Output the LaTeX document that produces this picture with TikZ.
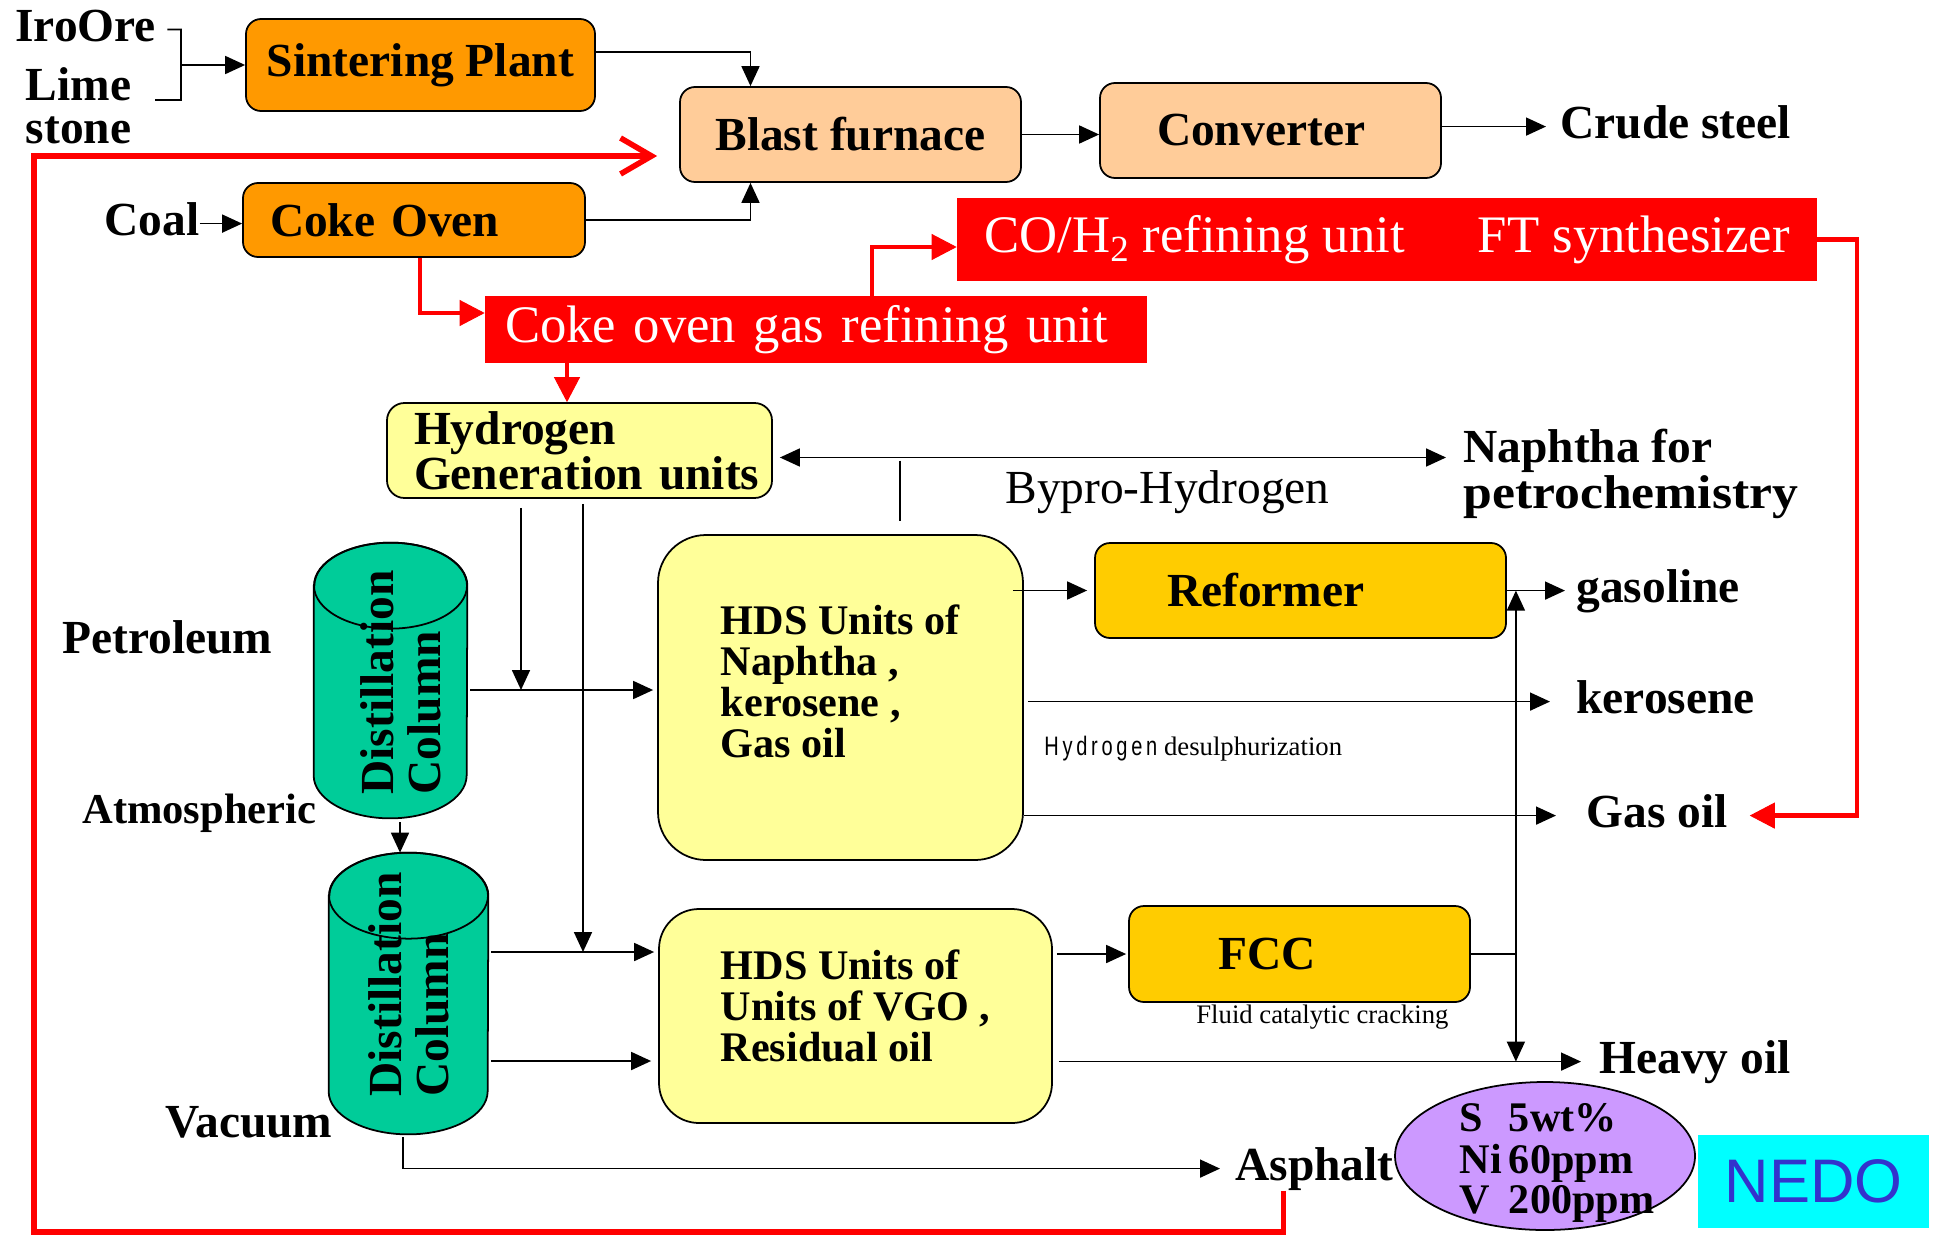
\documentclass[tikz,border=0pt]{standalone}
\usepackage{fontspec}
\setmainfont{Liberation Serif}
\setsansfont{Liberation Sans}
\newfontfamily\spacedsans[LetterSpace=14,FakeStretch=0.75]{Liberation Sans}
\usetikzlibrary{arrows.meta,shapes.geometric,calc}
\definecolor{orng}{HTML}{FF9900}
\definecolor{peach}{HTML}{FFCC99}
\definecolor{lyellow}{HTML}{FFFF99}
\definecolor{gold}{HTML}{FFCC00}
\definecolor{colgreen}{HTML}{00CC99}
\definecolor{lilac}{HTML}{CC99FF}
\definecolor{nedocyan}{HTML}{00FFFF}
\definecolor{nedoblue}{HTML}{3333CC}

\begin{document}
\begin{tikzpicture}[
  plant/.style={draw, line width=1pt, rounded corners=0.3cm, inner sep=0pt, font=\fontsize{27}{26}\selectfont\bfseries},
  redbox/.style={fill=red, inner sep=0pt, text=white, font=\fontsize{30}{30}\selectfont},
  lbl/.style={inner sep=0pt, text height=19pt, text depth=6pt, font=\fontsize{27}{26}\selectfont\bfseries},
  mlbl/.style={inner sep=0pt, align=left, font=\fontsize{27}{24.5}\selectfont\bfseries},
  note/.style={inner sep=0pt, font=\fontsize{15.2}{16}\selectfont},
  arr/.style={line width=1pt, -{Triangle[length=0.4cm,width=0.36cm]}},
  arrr/.style={line width=1pt, {Triangle[length=0.4cm,width=0.36cm]}-{Triangle[length=0.4cm,width=0.36cm]}},
  redarr/.style={red, line width=2.6pt, -{Triangle[length=0.5cm,width=0.52cm,line width=0.5pt]}},
  backline/.style={red, line width=3.2pt, -{Straight Barb[length=0.62cm,width=0.72cm]}, shorten >=0.44cm}
]
\useasboundingbox (0,0) rectangle (38.66,-24.68);

\node[plant, fill=orng, minimum width=6.98cm, minimum height=1.84cm] (sinter) at (8.41,-1.30) {Sintering Plant};
\node[plant, fill=peach, minimum width=6.82cm, minimum height=1.90cm] (blast) at (17.01,-2.69) {Blast furnace};
\node[plant, fill=peach, minimum height=1.90cm, text width=6.82cm, align=left] (conv) at (25.41,-2.61) {\hspace*{1.14cm}Converter};
\node[plant, fill=orng, minimum height=1.48cm, text width=5.76cm, inner xsep=0.54cm, align=left] (coke) at (8.28,-4.40) {Coke Oven};
\node[redbox, minimum height=1.34cm, text width=12.44cm, inner xsep=0.4cm, align=left] (cog) at (16.32,-6.59) {Coke oven gas refining unit};
\node[redbox, minimum width=17.2cm, minimum height=1.66cm] (coh2) at (27.74,-4.79) {CO/H\textsubscript{2} refining unit\hspace{1.46cm}FT synthesizer};
\node[plant, fill=lyellow, rounded corners=0.35cm, minimum height=1.90cm, text width=7.70cm, align=left, font=\fontsize{27}{25.6}\selectfont\bfseries] (hydro) at (11.59,-9.01) {\hspace*{0.54cm}Hydrogen\\\hspace*{0.54cm}Generation units};
\node[plant, fill=lyellow, rounded corners=0.96cm, minimum width=7.30cm, minimum height=6.50cm, align=left, font=\fontsize{24}{23.3}\selectfont\bfseries] (hdsn) at (16.81,-13.95) {HDS Units of\\Naphtha ,\\kerosene ,\\Gas oil\rule[-0.64cm]{0pt}{0.64cm}};
\node[plant, fill=lyellow, rounded corners=0.8cm, minimum width=7.86cm, minimum height=4.28cm, align=left, font=\fontsize{24}{23.3}\selectfont\bfseries] (hdsv) at (17.11,-20.32) {HDS Units of\\Units of VGO ,\\Residual oil\rule[-0.4cm]{0pt}{0.4cm}};
\node[plant, fill=gold, minimum height=1.90cm, text width=5.34cm, inner xsep=1.44cm, align=left] (reformer) at (26.01,-11.81) {Reformer};
\node[plant, fill=gold, minimum height=1.92cm, text width=3.26cm, inner xsep=1.78cm, align=left] (fcc) at (25.99,-19.08) {FCC};

\node[minimum width=3.06cm, minimum height=5.50cm, inner sep=0pt] (col1) at (7.81,-13.61) {};
\node[minimum width=3.18cm, minimum height=5.62cm, inner sep=0pt] (col2) at (8.17,-19.87) {};
\foreach \c/\rx in {col1/1.53,col2/1.59}{
  \draw[fill=colgreen, line width=1pt] ([yshift=-0.86cm]\c.north west) -- ([yshift=0.86cm]\c.south west)
    arc[start angle=180, end angle=360, x radius=\rx*1cm, y radius=0.86cm] -- ([yshift=-0.86cm]\c.north east)
    arc[start angle=0, end angle=180, x radius=\rx*1cm, y radius=0.86cm] -- cycle;
  \draw[line width=1pt] ([yshift=-0.86cm]\c.north) ellipse[x radius=\rx*1cm, y radius=0.86cm];
}
\node[rotate=90, inner sep=0pt, align=left, font=\fontsize{27}{26.7}\selectfont\bfseries] (col1text) at (8.02,-13.65) {Distillation\\Column};
\node[rotate=90, inner sep=0pt, align=left, font=\fontsize{27}{26.7}\selectfont\bfseries] (col2text) at (8.18,-19.69) {Distillation\\Column};

\node[ellipse, draw, line width=1pt, fill=lilac, minimum width=6cm, minimum height=2.96cm, inner sep=0pt] (props) at (30.90,-23.12) {};
\node[inner sep=0pt, font=\fontsize{24}{23}\selectfont\bfseries] (propstext) at (31.14,-23.29) {\begin{tabular}{@{}l@{\hspace{4pt}}l@{}}S&5wt\%\\Ni&60ppm\\V&200ppm\end{tabular}};
\node[fill=nedocyan, minimum width=4.62cm, minimum height=1.86cm, inner sep=0pt, text=nedoblue, font=\sffamily\fontsize{35}{35}\selectfont] (nedo) at (36.27,-23.63) {NEDO};

\node[lbl, anchor=base west] (iron) at (0.30,-0.82) {IroOre};
\node[mlbl] (lime) at (1.57,-2.11) {Lime\\stone};
\node[lbl, anchor=base west] (coal) at (2.08,-4.70) {Coal};
\node[lbl, anchor=base west] (crude) at (31.20,-2.76) {Crude steel};
\node[mlbl, anchor=west, font=\fontsize{27}{26}\selectfont\bfseries] (naphtha) at (29.26,-9.48) {Naphtha for\\\scalebox{1.09}[1]{petrochemistry}};
\node[lbl, anchor=base west, font=\fontsize{27}{26}\selectfont] (bypro) at (20.10,-10.06) {Bypro-Hydrogen};
\node[lbl, anchor=base west] (petro) at (1.24,-13.06) {Petroleum};
\node[lbl, anchor=base west, font=\fontsize{24.2}{26}\selectfont\bfseries] (atmos) at (1.64,-16.46) {Atmospheric};
\node[lbl, anchor=base west] (vacuum) at (3.30,-22.74) {Vacuum};
\node[lbl, anchor=base west] (gasoline) at (31.52,-12.04) {gasoline};
\node[lbl, anchor=base west] (kerosene) at (31.52,-14.26) {kerosene};
\node[lbl, anchor=base west] (gasoil) at (31.72,-16.54) {Gas oil};
\node[lbl, anchor=base west] (heavy) at (31.98,-21.46) {Heavy oil};
\node[lbl, anchor=base west] (asphalt) at (24.70,-23.60) {Asphalt};
\node[note, anchor=base west] (hdsnote) at (20.88,-15.10) {{\spacedsans Hydrogen} desulphurization};
\node[note, anchor=base west] (fccnote) at (23.92,-20.46) {Fluid catalytic cracking};

\coordinate (brkt) at (3.62,-0.59);
\coordinate (brkb) at (3.62,-2.00);
\coordinate (byp) at (18.00,-9.15);
\coordinate (in1) at ([yshift=0.15cm]hdsn.west);
\coordinate (in2) at ([yshift=1.28cm]hdsv.west);
\coordinate (in3) at ([yshift=-0.9cm]hdsv.west);
\coordinate (h1) at ([xshift=-1.17cm,yshift=-0.18cm]hydro.south);
\coordinate (h2) at ([xshift=0.07cm,yshift=-0.1cm]hydro.south);
\coordinate (fccj) at ([xshift=0.9cm]fcc.east);
\coordinate (ftr) at (37.14,-4.79);
\coordinate (loopa) at (0.68,-24.64);

\draw[line width=1pt] ([xshift=0.22cm]iron.east) -- (brkt) -- (brkb) -- ++(-0.52,0);
\draw[arr] (brkt |- sinter.west) -- (sinter.west);
\draw[arr] (coal.east) -- (coal.east -| coke.west);
\draw[arr] ([yshift=0.26cm]sinter.east) -| ([xshift=-2cm]blast.north);
\draw[arr] (coke.east) -| ([xshift=-2cm]blast.south);
\draw[arr] (blast.east) -- (blast.east -| conv.west);
\draw[arr, shorten >=0.28cm] (crude.west -| conv.east) -- (crude.west);

\draw[redarr] ([xshift=0.12cm]coke.south) |- ([yshift=0.33cm]cog.west);
\draw[redarr] ([xshift=1.12cm]cog.north) |- ([yshift=-0.15cm]coh2.west);
\draw[redarr] ([xshift=-0.25cm]hydro.north |- cog.south) -- ([xshift=-0.25cm]hydro.north);
\draw[redarr, shorten >=0.44cm] (coh2.east) -| (ftr |- gasoil.east) -- (gasoil.east);
\draw[backline] ([xshift=-0.62cm]asphalt.south) |- (loopa) |- ([yshift=-0.43cm]blast.west);

\draw[arrr, shorten <=0.14cm, shorten >=0.34cm] (hydro.east |- byp) -- (byp -| naphtha.west);
\draw[line width=1pt] ([yshift=-0.06cm]byp) -- ([yshift=0.26cm]hdsn.north -| byp);
\draw[arr] (h1) -- (h1 |- in1);
\draw[arr] (h2) -- (h2 |- in2);
\draw[arr, shorten <=0.06cm, shorten >=0.08cm] (col1.east |- in1) -- (in1);
\draw[arr, shorten <=0.06cm, shorten >=0.08cm] (col2.east |- in2) -- (in2);
\draw[arr, shorten <=0.06cm, shorten >=0.14cm] (col2.east |- in3) -- (in3);
\draw[arr] ([xshift=0.19cm,yshift=-0.08cm]col1.south) -- ([xshift=0.19cm]col1.south |- col2.north);
\draw[arr, shorten >=0.3cm] ([xshift=-0.11cm,yshift=-0.06cm]col2.south) |- (asphalt.west);
\draw[arr, shorten >=0.14cm] ([xshift=-0.22cm]hdsn.east |- reformer.west) -- (reformer.west);
\draw[arr, shorten >=0.22cm] (reformer.east |- gasoline.west) -- (gasoline.west);
\draw[arr, shorten <=0.08cm, shorten >=0.52cm] (hdsn.east |- kerosene.west) -- (kerosene.west);
\draw[arr, shorten >=0.6cm] (hdsn.east |- gasoil.west) -- (gasoil.west);
\draw[arr, shorten <=0.08cm, shorten >=0.04cm] (hdsv.east |- fcc.west) -- (fcc.west);
\draw[arr, shorten <=0.12cm, shorten >=0.36cm] (hdsv.east |- heavy.west) -- (heavy.west);
\draw[line width=1pt] (fcc.east) -- (fccj);
\draw[arr] (fccj) -- (fccj |- gasoline.west);
\draw[arr] (fccj) -- (fccj |- heavy.west);
\end{tikzpicture}
\end{document}
